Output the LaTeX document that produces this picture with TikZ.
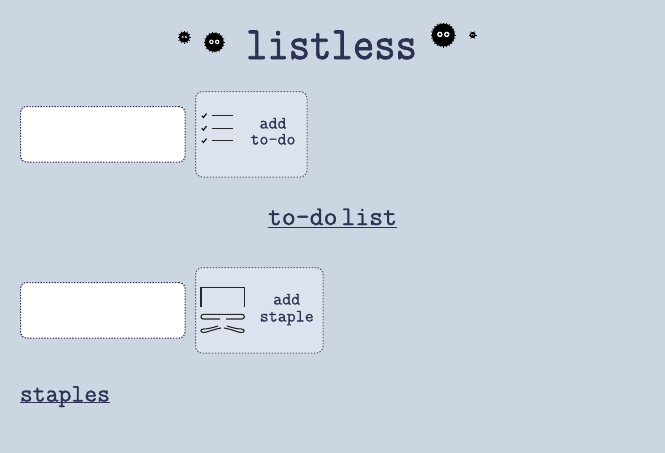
\documentclass[tikz,border=0pt]{standalone}
\usepackage{fontspec}
\usepackage{graphicx}
\setmainfont{Latin Modern Mono}
\newfontfamily\boldtitle[FakeBold=1.6]{Latin Modern Mono}
\newfontfamily\boldhead[FakeBold=1.2]{Latin Modern Mono}
\newfontfamily\boldlabel[FakeBold=0.6]{Latin Modern Mono}
\definecolor{bgc}{HTML}{CBD6E2}
\definecolor{btnc}{HTML}{DCE3EE}
\definecolor{inkc}{HTML}{2E3152}
\definecolor{dotc}{HTML}{606268}
\newcommand{\soot}[4]{% x,y,r,angle step of the fringe
  \fill[black] (#1,#2) circle[radius=#3];
  \foreach \sa in {0,#4,...,359}{
    \draw[black,line width=.7pt] (#1,#2) ++(\sa:#3-0.3) -- ++(\sa:1.3);
  }
  \fill[white] ({#1-0.3*#3},{#2-0.05*#3}) circle[radius=0.24*#3] ({#1+0.3*#3},{#2-0.05*#3}) circle[radius=0.24*#3];
  \fill[black] ({#1-0.3*#3},{#2-0.05*#3}) circle[radius=0.12*#3] ({#1+0.3*#3},{#2-0.05*#3}) circle[radius=0.12*#3];
}
\tikzset{
  inputbox/.style={draw=inkc,fill=white,dash pattern=on 1.4pt off 1.4pt,line width=1.1pt,rounded corners=6pt,minimum width=164.5pt,minimum height=55.5pt,inner sep=0pt,anchor=north west},
  btnbox/.style={draw=dotc,fill=btnc,dash pattern=on 1.4pt off 1.6pt,line width=1.1pt,rounded corners=7pt,inner sep=0pt,anchor=north west,minimum height=85.5pt},
  label/.style={text=inkc,anchor=base,inner sep=0pt,font=\fontsize{17.5}{17.5}\boldlabel},
  heading/.style={text=inkc,anchor=base,inner sep=0pt,font=\fontsize{25}{25}\boldhead},
  underl/.style={draw=inkc,line width=1pt},
  icon/.style={draw=black!85,line width=1.1pt},
}
\begin{document}
\begin{tikzpicture}[x=1pt,y=-1pt]
\fill[bgc] (0,0) rectangle (665,453);
\useasboundingbox (0,0) rectangle (665,453);
\node[text=inkc,anchor=base,inner sep=0pt,font=\fontsize{41.5}{41.5}\boldtitle] (title) at (331.5,59) {\scalebox{1}[1.12]{listless}};
\soot{184.3}{37.3}{5.5}{30}
\soot{214.3}{42.3}{9.5}{20}
\soot{443.3}{35}{11.5}{15}
\soot{472.7}{35}{3}{60}
\node[inputbox] (in1) at (20,106) {};
\node[btnbox,minimum width=111.5pt] (btn1) at (195,91) {};
\node[label] (add1) at (273,128.5) {add};
\node[label] (todo) at (273,144.5) {to-do};
\foreach \y in {115.7,128.3,140.7}{
  \draw[icon] (211.7,\y) -- (233,\y);
  \draw[black,line width=1.1pt] (201.8,\y) -- (203.5,{\y+1.8}) -- (206.5,{\y-2.2});
}
\node[heading,font=\fontsize{27}{27}\boldhead] (h1) at (332.5,225) {to-do\hspace{-10pt} list};
\draw[underl] ([yshift=-2pt]h1.base west) -- ([yshift=-2pt]h1.base east);
\node[inputbox] (in2) at (20,282) {};
\node[btnbox,minimum width=127.5pt] (btn2) at (195,267) {};
\node[label] (add2) at (286.7,304.5) {add};
\node[label] (staple) at (286.7,321.5) {staple};
\draw[icon] (201,306.7) -- (201,287.7) -- (244.3,287.7) -- (244.3,306.7);
\draw[icon,rounded corners=2.2pt] (220,319) -- (201,319) -- (201,314.4) -- (244.3,314.4) -- (244.3,319) -- (226,319);
\draw[icon] (218,326) .. controls (212,328) and (207,329) .. (203.5,329) .. controls (200,329) and (200,332.5) .. (203.5,332.5) .. controls (207,332.5) and (214,329) .. (221,328);
\draw[icon] (227,326) .. controls (233,328) and (238,329) .. (241.5,329) .. controls (245,329) and (245,332.5) .. (241.5,332.5) .. controls (238,332.5) and (231,329) .. (224,328);
\node[heading] (h2) at (65,401.5) {staples};
\draw[underl] ([yshift=-1pt]h2.base west) -- ([yshift=-1pt]h2.base east);
\end{tikzpicture}
\end{document}
